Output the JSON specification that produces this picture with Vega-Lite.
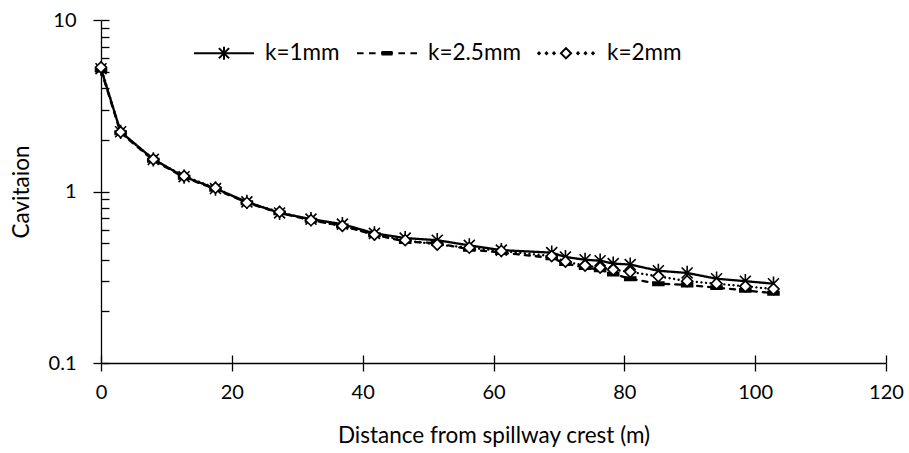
{
  "$schema": "https://vega.github.io/schema/vega-lite/v6.json",
  "width": 785,
  "height": 343,
  "autosize": "none",
  "padding": {"left": 101, "top": 20, "right": 23, "bottom": 90},
  "background": "white",
  "config": {
    "view": {"stroke": null},
    "font": "Lato",
    "axis": {
      "domainColor": "black", "tickColor": "black", "labelColor": "black", "titleColor": "black",
      "labelFont": "Lato", "titleFont": "Lato", "labelFontSize": 20, "titleFontSize": 22.5,
      "titleFontWeight": "normal", "grid": false, "domainWidth": 1.3, "tickWidth": 1.3, "labelFlush": false
    }
  },
  "data": {
    "values": [
      {"x": 0, "series": "k=1mm", "v": 5.2}, {"x": 3, "series": "k=1mm", "v": 2.23}, {"x": 8, "series": "k=1mm", "v": 1.54},
      {"x": 12.7, "series": "k=1mm", "v": 1.22}, {"x": 17.5, "series": "k=1mm", "v": 1.04}, {"x": 22.3, "series": "k=1mm", "v": 0.87},
      {"x": 27.3, "series": "k=1mm", "v": 0.75}, {"x": 32.1, "series": "k=1mm", "v": 0.69}, {"x": 36.9, "series": "k=1mm", "v": 0.645},
      {"x": 41.8, "series": "k=1mm", "v": 0.57}, {"x": 46.5, "series": "k=1mm", "v": 0.535}, {"x": 51.4, "series": "k=1mm", "v": 0.52},
      {"x": 56.3, "series": "k=1mm", "v": 0.485}, {"x": 61.2, "series": "k=1mm", "v": 0.455}, {"x": 68.9, "series": "k=1mm", "v": 0.44},
      {"x": 71, "series": "k=1mm", "v": 0.415}, {"x": 74, "series": "k=1mm", "v": 0.4}, {"x": 76.3, "series": "k=1mm", "v": 0.395},
      {"x": 78.3, "series": "k=1mm", "v": 0.38}, {"x": 80.9, "series": "k=1mm", "v": 0.375}, {"x": 85.2, "series": "k=1mm", "v": 0.345},
      {"x": 89.6, "series": "k=1mm", "v": 0.335}, {"x": 94.1, "series": "k=1mm", "v": 0.31}, {"x": 98.5, "series": "k=1mm", "v": 0.3},
      {"x": 102.8, "series": "k=1mm", "v": 0.29},
      {"x": 0, "series": "k=2.5mm", "v": 5.1}, {"x": 3, "series": "k=2.5mm", "v": 2.2}, {"x": 8, "series": "k=2.5mm", "v": 1.52},
      {"x": 12.7, "series": "k=2.5mm", "v": 1.21}, {"x": 17.5, "series": "k=2.5mm", "v": 1.03}, {"x": 22.3, "series": "k=2.5mm", "v": 0.86},
      {"x": 27.3, "series": "k=2.5mm", "v": 0.75}, {"x": 32.1, "series": "k=2.5mm", "v": 0.68}, {"x": 36.9, "series": "k=2.5mm", "v": 0.63},
      {"x": 41.8, "series": "k=2.5mm", "v": 0.56}, {"x": 46.5, "series": "k=2.5mm", "v": 0.51}, {"x": 51.4, "series": "k=2.5mm", "v": 0.5},
      {"x": 56.3, "series": "k=2.5mm", "v": 0.46}, {"x": 61.2, "series": "k=2.5mm", "v": 0.44}, {"x": 68.9, "series": "k=2.5mm", "v": 0.41},
      {"x": 71, "series": "k=2.5mm", "v": 0.38}, {"x": 74, "series": "k=2.5mm", "v": 0.36}, {"x": 76.3, "series": "k=2.5mm", "v": 0.35},
      {"x": 78.3, "series": "k=2.5mm", "v": 0.33}, {"x": 80.9, "series": "k=2.5mm", "v": 0.31}, {"x": 85.2, "series": "k=2.5mm", "v": 0.29},
      {"x": 89.6, "series": "k=2.5mm", "v": 0.285}, {"x": 94.1, "series": "k=2.5mm", "v": 0.275}, {"x": 98.5, "series": "k=2.5mm", "v": 0.265},
      {"x": 102.8, "series": "k=2.5mm", "v": 0.255},
      {"x": 0, "series": "k=2mm", "v": 5.3}, {"x": 3, "series": "k=2mm", "v": 2.22}, {"x": 8, "series": "k=2mm", "v": 1.54},
      {"x": 12.7, "series": "k=2mm", "v": 1.23}, {"x": 17.5, "series": "k=2mm", "v": 1.05}, {"x": 22.3, "series": "k=2mm", "v": 0.86},
      {"x": 27.3, "series": "k=2mm", "v": 0.76}, {"x": 32.1, "series": "k=2mm", "v": 0.68}, {"x": 36.9, "series": "k=2mm", "v": 0.63},
      {"x": 41.8, "series": "k=2mm", "v": 0.56}, {"x": 46.5, "series": "k=2mm", "v": 0.52}, {"x": 51.4, "series": "k=2mm", "v": 0.49},
      {"x": 56.3, "series": "k=2mm", "v": 0.47}, {"x": 61.2, "series": "k=2mm", "v": 0.45}, {"x": 68.9, "series": "k=2mm", "v": 0.42},
      {"x": 71, "series": "k=2mm", "v": 0.39}, {"x": 74, "series": "k=2mm", "v": 0.37}, {"x": 76.3, "series": "k=2mm", "v": 0.36},
      {"x": 78.3, "series": "k=2mm", "v": 0.35}, {"x": 80.9, "series": "k=2mm", "v": 0.34}, {"x": 85.2, "series": "k=2mm", "v": 0.32},
      {"x": 89.6, "series": "k=2mm", "v": 0.3}, {"x": 94.1, "series": "k=2mm", "v": 0.29}, {"x": 98.5, "series": "k=2mm", "v": 0.28},
      {"x": 102.8, "series": "k=2mm", "v": 0.27}
    ]
  },
  "layer": [
    {
      "mark": {"type": "line", "color": "black", "strokeWidth": 2.3, "strokeCap": "round"},
      "encoding": {
        "x": {"field": "x", "type": "quantitative", "scale": {"domain": [0, 120], "nice": false},
          "axis": {"orient": "bottom", "values": [0, 20, 40, 60, 80, 100, 120], "tickSize": 8, "labelPadding": 11,
            "title": "Distance from spillway crest (m)", "titlePadding": 22}},
        "y": {"field": "v", "type": "quantitative", "scale": {"type": "log", "domain": [0.1, 10], "nice": false},
          "axis": {"orient": "left", "values": [0.1, 1, 10], "format": "~g", "tickSize": 8, "labelPadding": 17,
            "title": "Cavitaion", "titlePadding": 15}},
        "strokeDash": {"field": "series", "type": "nominal",
          "scale": {"domain": ["k=1mm", "k=2.5mm", "k=2mm"], "range": [[1, 0], [5, 6], [0.1, 4.5]]},
          "legend": null}
      }
    },
    {
      "mark": {"type": "point", "filled": true, "stroke": "black", "strokeWidth": 1.6, "size": 120, "opacity": 1},
      "encoding": {
        "x": {"field": "x", "type": "quantitative", "scale": {"domain": [0, 120], "nice": false},
          "axis": {"orient": "bottom", "values": [0, 20, 40, 60, 80, 100, 120], "tickSize": -8, "labels": false, "domain": false, "title": null}},
        "y": {"field": "v", "type": "quantitative", "scale": {"type": "log", "domain": [0.1, 10], "nice": false},
          "axis": {"orient": "left", "values": [0.1, 0.2, 0.3, 0.4, 0.5, 0.6, 0.7, 0.8, 0.9, 1, 2, 3, 4, 5, 6, 7, 8, 9, 10], "tickSize": -8, "labels": false, "domain": false, "title": null}},
        "shape": {"field": "series", "type": "nominal",
          "scale": {"domain": ["k=1mm", "k=2.5mm", "k=2mm"], "range": ["M-1,-1L1,1M-1,1L1,-1M0,-1.3L0,1.3", "M-1,-0.3L1,-0.3L1,0.3L-1,0.3Z", "M0,-1L1,0L0,1L-1,0Z"]},
          "legend": null},
        "fill": {"field": "series", "type": "nominal",
          "scale": {"domain": ["k=1mm", "k=2.5mm", "k=2mm"], "range": ["transparent", "black", "white"]},
          "legend": null}
      }
    },
    {
      "transform": [{"filter": "false"}],
      "mark": {"type": "point", "filled": false, "color": "black", "strokeWidth": 2, "size": 3600, "opacity": 1},
      "encoding": {
        "x": {"field": "x", "type": "quantitative", "axis": null},
        "y": {"field": "v", "type": "quantitative", "axis": null},
        "shape": {"field": "series", "type": "nominal",
          "scale": {"domain": ["k=1mm", "k=2.5mm", "k=2mm"], "range": [
            "M-1,0L1,0M-0.17,-0.17L0.17,0.17M-0.17,0.17L0.17,-0.17M0,-0.22L0,0.22",
            "M-1,0L-0.78,0M-0.6,0L-0.38,0M-0.2,0L0.2,0M0.38,0L0.6,0M0.78,0L1,0M-0.15,-0.04L0.15,-0.04L0.15,0.04L-0.15,0.04Z",
            "M-0.9,-0.025L-0.875,0L-0.9,0.025L-0.925,0ZM-0.65,-0.025L-0.625,0L-0.65,0.025L-0.675,0ZM-0.4,-0.025L-0.375,0L-0.4,0.025L-0.425,0ZM0.4,-0.025L0.425,0L0.4,0.025L0.375,0ZM0.65,-0.025L0.675,0L0.65,0.025L0.625,0ZM0.9,-0.025L0.925,0L0.9,0.025L0.875,0ZM0,-0.17L0.17,0L0,0.17L-0.17,0Z"
          ]},
          "legend": {
            "orient": "none", "legendX": 92, "legendY": 2, "direction": "horizontal", "columns": 3,
            "title": null, "padding": 0, "labelFont": "Lato", "labelFontSize": 22.5, "labelColor": "black",
            "symbolSize": 3600, "symbolStrokeWidth": 2, "symbolStrokeColor": "black", "symbolFillColor": "transparent",
            "symbolOpacity": 1, "labelOffset": 10, "columnPadding": 13
          }
        }
      }
    }
  ],
  "resolve": {"axis": {"x": "independent", "y": "independent"}, "scale": {"shape": "independent"}}
}
